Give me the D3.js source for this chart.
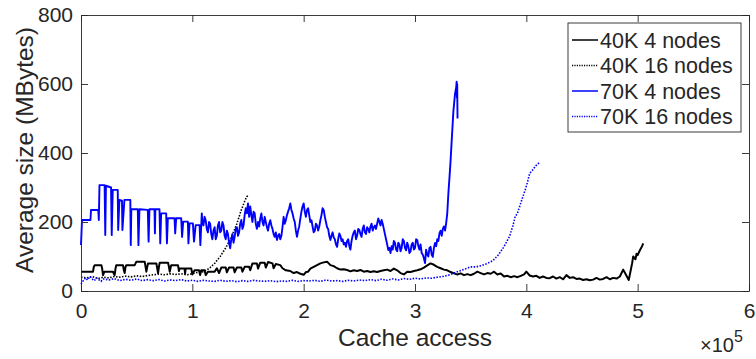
<!DOCTYPE html>
<html>
<head>
<meta charset="utf-8">
<script src="https://cdn.jsdelivr.net/npm/d3@7"></script>
<style>
  body { margin: 0; background: #fff; }
  text { font-family: "Liberation Sans", Arial, Helvetica, sans-serif; fill: #262626; }
</style>
</head>
<body>
<div id="chart"></div>
<script>

// svg variables
var width = 756,
    height = 359;

var margin = {top: 15, right: 7, bottom: 68, left: 81},
    innerW = width - margin.left - margin.right,
    innerH = height - margin.top - margin.bottom;

// data variables  (x in units of 10^5 cache accesses, y in MBytes)

var xTicks = [0, 1, 2, 3, 4, 5, 6];
var yTicks = [0, 200, 400, 600, 800];
var seriesNames = ["40K 4 nodes", "40K 16 nodes", "70K 4 nodes", "70K 16 nodes"];

var black4 = [[0.000,56],[0.108,56],[0.115,70],[0.123,75],[0.183,75],[0.190,65],[0.198,46],[0.210,56],[0.287,56],[0.295,50],[0.302,46],[0.310,65],[0.317,75],[0.377,75],[0.385,60],[0.392,52],[0.400,70],[0.407,75],[0.482,75],[0.490,80],[0.497,85],[0.572,85],[0.580,70],[0.587,56],[0.595,70],[0.602,80],[0.677,80],[0.685,65],[0.692,52],[0.700,70],[0.707,82],[0.782,82],[0.790,70],[0.797,56],[0.805,68],[0.811,75],[0.871,75],[0.880,58],[0.886,65],[0.930,65],[0.935,50],[0.940,65],[0.991,65],[1.000,48],[1.020,60],[1.060,60],[1.070,46],[1.080,60],[1.110,60],[1.120,46],[1.140,56],[1.200,56],[1.220,66],[1.240,52],[1.260,68],[1.300,68],[1.310,54],[1.330,68],[1.370,68],[1.380,54],[1.400,68],[1.440,68],[1.450,56],[1.470,70],[1.510,70],[1.520,60],[1.540,80],[1.580,80],[1.590,65],[1.610,82],[1.650,82],[1.660,68],[1.680,84],[1.720,80],[1.730,66],[1.750,78],[1.790,75],[1.810,66],[1.840,60],[1.880,58],[1.910,52],[1.940,55],[1.970,50],[2.000,47],[2.020,55],[2.040,56],[2.060,65],[2.090,70],[2.120,75],[2.150,80],[2.180,83],[2.210,85],[2.240,75],[2.270,72],[2.300,66],[2.330,62],[2.360,63],[2.390,61],[2.420,57],[2.450,60],[2.480,58],[2.510,61],[2.540,56],[2.570,58],[2.600,55],[2.630,57],[2.660,55],[2.690,58],[2.720,60],[2.750,62],[2.780,58],[2.810,65],[2.840,60],[2.870,52],[2.900,48],[2.930,56],[2.960,55],[2.990,58],[3.020,60],[3.050,63],[3.080,68],[3.110,74],[3.140,80],[3.170,76],[3.200,70],[3.230,66],[3.260,62],[3.290,60],[3.320,55],[3.350,51],[3.380,48],[3.410,51],[3.440,46],[3.470,49],[3.500,46],[3.530,50],[3.560,56],[3.590,52],[3.620,48],[3.650,52],[3.680,50],[3.710,56],[3.740,48],[3.770,51],[3.800,42],[3.830,44],[3.860,40],[3.890,43],[3.920,40],[3.950,44],[3.980,48],[4.000,56],[4.030,45],[4.060,42],[4.090,44],[4.120,38],[4.150,42],[4.180,38],[4.210,37],[4.240,42],[4.270,36],[4.300,40],[4.330,34],[4.360,46],[4.390,38],[4.420,40],[4.450,35],[4.480,36],[4.510,32],[4.540,34],[4.570,31],[4.600,33],[4.630,38],[4.660,33],[4.690,35],[4.720,40],[4.750,34],[4.780,38],[4.810,36],[4.840,42],[4.870,62],[4.890,50],[4.920,32],[4.950,80],[4.960,100],[4.980,92],[4.990,108],[5.000,104],[5.020,118],[5.040,130],[5.050,138]];

var black16 = [[0.00,40],[0.05,38],[0.10,42],[0.15,36],[0.20,40],[0.25,38],[0.30,42],[0.35,40],[0.40,43],[0.45,41],[0.50,44],[0.55,42],[0.60,45],[0.65,47],[0.70,49],[0.75,47],[0.80,50],[0.85,48],[0.90,50],[0.95,47],[1.00,50],[1.05,54],[1.10,56],[1.15,65],[1.20,80],[1.25,100],[1.30,125],[1.35,155],[1.40,195],[1.44,235],[1.47,260],[1.49,274],[1.50,276]];

var blue4 = [[0.000,133],[0.009,206],[0.085,206],[0.090,235],[0.155,235],[0.160,206],[0.166,307],[0.212,307],[0.218,162],[0.224,305],[0.270,300],[0.276,162],[0.285,293],[0.330,293],[0.334,177],[0.345,264],[0.368,262],[0.372,177],[0.390,264],[0.443,264],[0.447,133],[0.452,237],[0.510,237],[0.516,133],[0.525,237],[0.600,235],[0.607,143],[0.615,237],[0.660,237],[0.664,167],[0.668,237],[0.705,237],[0.712,138],[0.720,225],[0.765,225],[0.772,138],[0.780,211],[0.840,211],[0.846,167],[0.855,211],[0.900,211],[0.908,157],[0.918,201],[0.960,201],[0.965,138],[0.975,196],[1.005,196],[1.015,143],[1.030,191],[1.065,191],[1.072,133],[1.085,225],
  [1.09,200],[1.10,190],[1.11,215],[1.12,205],[1.13,180],[1.14,170],[1.15,200],[1.16,195],[1.17,165],[1.18,150],[1.19,175],[1.20,185],[1.21,150],[1.22,160],[1.23,190],[1.24,200],[1.25,170],[1.26,175],[1.27,200],[1.28,190],[1.29,160],[1.30,150],[1.31,175],[1.32,165],[1.33,140],[1.34,124],[1.35,150],[1.36,165],[1.37,140],[1.38,157],[1.39,180],[1.40,185],[1.41,160],[1.42,170],[1.43,195],[1.44,206],[1.45,180],[1.46,190],[1.47,220],[1.48,240],[1.49,225],[1.50,254],[1.51,215],[1.52,245],[1.53,220],[1.54,200],[1.55,230],[1.56,225],[1.57,195],[1.58,180],[1.59,200],[1.60,187],[1.61,210],[1.62,225],[1.63,200],[1.64,190],[1.65,215],[1.66,200],[1.67,185],[1.68,175],[1.69,195],[1.70,205],[1.71,190],[1.72,180],[1.73,165],[1.74,157],[1.75,170],[1.76,148],[1.77,160],[1.78,165],[1.79,150],[1.80,160],[1.81,185],[1.82,215],[1.83,195],[1.84,205],[1.85,220],[1.86,230],[1.87,240],[1.88,254],[1.89,235],[1.90,225],[1.91,210],[1.92,200],[1.93,175],[1.94,157],[1.95,175],[1.96,187],[1.97,210],[1.98,230],[1.99,245],[2.00,254],[2.01,230],[2.02,215],[2.03,235],[2.04,240],[2.05,220],[2.06,200],[2.07,205],[2.08,187],[2.09,170],[2.10,175],[2.11,195],[2.12,190],[2.13,175],[2.14,187],[2.15,205],[2.16,220],[2.17,240],[2.18,235],[2.19,215],[2.20,200],[2.21,185],[2.22,180],[2.23,160],[2.24,148],[2.25,160],[2.26,170],[2.27,155],[2.28,150],[2.29,135],[2.30,128],[2.31,150],[2.32,167],[2.33,160],[2.34,145],[2.35,150],[2.36,135],[2.37,140],[2.38,128],[2.39,145],[2.40,150],[2.41,130],[2.42,120],[2.43,145],[2.44,160],[2.45,170],[2.46,175],[2.47,150],[2.48,160],[2.49,180],[2.50,177],[2.51,165],[2.52,157],[2.53,180],[2.54,190],[2.55,170],[2.56,165],[2.57,185],[2.58,180],[2.59,170],[2.60,187],[2.61,195],[2.62,175],[2.63,185],[2.64,190],[2.65,180],[2.66,195],[2.67,210],[2.68,201],[2.69,190],[2.70,206],[2.71,195],[2.72,180],[2.73,165],[2.74,150],[2.75,135],[2.76,119],[2.77,125],[2.78,110],[2.79,130],[2.80,120],[2.81,145],[2.82,140],[2.83,120],[2.84,115],[2.85,140],[2.86,135],[2.87,115],[2.88,125],[2.89,150],[2.90,145],[2.91,125],[2.92,118],[2.93,140],[2.94,130],[2.95,110],[2.96,115],[2.97,135],[2.98,140],[2.99,120],[3.00,125],[3.01,150],[3.02,148],[3.03,130],[3.04,120],[3.05,135],[3.06,110],[3.07,105],[3.08,95],[3.09,81],[3.10,120],[3.11,105],[3.12,100],[3.13,125],[3.14,128],[3.15,105],[3.16,99],[3.17,125],[3.18,139],[3.19,130],[3.20,150],[3.21,145],[3.22,168],[3.23,175],[3.24,160],[3.25,180],[3.26,187],[3.27,175],[3.28,197],[3.29,226],[3.30,284],[3.31,330],[3.32,380],[3.33,438],[3.345,522],[3.36,573],[3.37,590],[3.374,607],[3.377,560],[3.379,600],[3.382,500]];

var blue16 = [[0.00,20],[0.02,30],[0.04,38],[0.06,32],[0.08,42],[0.10,35],[0.12,30],[0.14,38],[0.16,33],[0.18,28],[0.20,35],[0.25,32],[0.30,36],[0.35,30],[0.40,34],[0.45,31],[0.50,35],[0.55,30],[0.60,33],[0.65,30],[0.70,33],[0.75,29],[0.80,32],[0.85,30],[0.90,33],[0.95,29],[1.00,31],[1.05,28],[1.10,31],[1.15,29],[1.20,28],[1.25,31],[1.30,28],[1.35,30],[1.40,27],[1.45,30],[1.50,28],[1.55,31],[1.60,29],[1.65,28],[1.70,30],[1.75,27],[1.80,29],[1.85,28],[1.90,31],[1.95,28],[2.00,30],[2.05,29],[2.10,31],[2.15,28],[2.20,32],[2.25,29],[2.30,30],[2.35,28],[2.40,31],[2.45,29],[2.50,32],[2.55,30],[2.60,33],[2.65,30],[2.70,34],[2.75,31],[2.80,35],[2.85,32],[2.90,36],[2.95,34],[3.00,37],[3.05,35],[3.10,38],[3.15,37],[3.20,40],[3.25,42],[3.30,46],[3.35,52],[3.40,58],[3.45,64],[3.50,70],[3.55,70],[3.60,74],[3.65,80],[3.70,88],[3.75,105],[3.80,129],[3.85,159],[3.88,190],[3.90,216],[3.92,225],[3.94,245],[3.96,265],[3.99,293],[4.01,315],[4.03,341],[4.06,352],[4.08,361],[4.10,368],[4.12,372]];

var axisColor = "#262626";

/// build chart

var svg = d3.select("#chart")
    .append("svg")
    .attr("width", width)
    .attr("height", height);

var x = d3.scaleLinear().domain([0, 6e5]).range([0, innerW]);
var y = d3.scaleLinear().domain([0, 800]).range([innerH, 0]);

var g = svg.append("g")
    .attr("transform", "translate(" + margin.left + "," + margin.top + ")");

/////////////////////////////
// series lines
/////////////////////////////

var line = d3.line()
    .x(function (d) { return x(d[0] * 1e5); })
    .y(function (d) { return y(d[1]); });

var series = [
    {name: seriesNames[0], data: black4,  color: "#000000", dash: null,  w: 2},
    {name: seriesNames[1], data: black16, color: "#000000", dash: "1.5,1.5", w: 1.6},
    {name: seriesNames[2], data: blue4,   color: "#0000ff", dash: null,  w: 1.9},
    {name: seriesNames[3], data: blue16,  color: "#0000ff", dash: "1.5,1.5", w: 1.6}
];

g.selectAll("path.series")
    .data(series)
    .enter()
    .append("path")
    .attr("class", "series")
    .attr("d", function (d) { return line(d.data); })
    .attr("fill", "none")
    .attr("stroke", function (d) { return d.color; })
    .attr("stroke-width", function (d) { return d.w; })
    .attr("stroke-dasharray", function (d) { return d.dash; })
    .attr("stroke-linejoin", "round");

/////////////////////////////
// axes (matlab style box, ticks inside)
/////////////////////////////

var xAxis = d3.axisBottom(x).tickValues(xTicks.map(function (t) { return t * 1e5; }))
    .tickFormat(function (d) { return d / 1e5; })
    .tickSizeInner(-7).tickSizeOuter(0).tickPadding(12);
var xAxisTop = d3.axisTop(x).tickValues(xTicks.map(function (t) { return t * 1e5; }))
    .tickFormat("").tickSizeInner(-7).tickSizeOuter(0);
var yAxis = d3.axisLeft(y).tickValues(yTicks)
    .tickSizeInner(-7).tickSizeOuter(0).tickPadding(8);
var yAxisRight = d3.axisRight(y).tickValues(yTicks)
    .tickFormat("").tickSizeInner(-7).tickSizeOuter(0);

g.append("g").attr("transform", "translate(0," + innerH + ")").call(xAxis);
g.append("g").call(xAxisTop);
g.append("g").call(yAxis);
g.append("g").attr("transform", "translate(" + innerW + ",0)").call(yAxisRight);

g.selectAll(".domain, .tick line").attr("stroke", axisColor).attr("stroke-width", 0.9);
g.selectAll(".tick text")
    .style("font-size", "21px")
    .style("font-family", "Liberation Sans, Arial, sans-serif")
    .attr("fill", axisColor);

// axis titles
svg.append("text")
    .attr("x", margin.left + innerW / 2)
    .attr("y", 346)
    .attr("text-anchor", "middle")
    .style("font-size", "24.5px")
    .text("Cache access");

svg.append("text")
    .attr("transform", "translate(33,150) rotate(-90)")
    .attr("text-anchor", "middle")
    .style("font-size", "24.5px")
    .text("Average size (MBytes)");

// exponent
var expo = svg.append("text")
    .attr("x", 700)
    .attr("y", 352)
    .style("font-size", "20px");
expo.append("tspan").text("\u00d710");
expo.append("tspan").attr("dy", -10).style("font-size", "16px").text("5");

/////////////////////////////
// legend
/////////////////////////////

var legend = svg.append("g").attr("transform", "translate(568,23)");

legend.append("rect")
    .attr("width", 173)
    .attr("height", 109)
    .attr("fill", "#fff")
    .attr("stroke", axisColor)
    .attr("stroke-width", 0.9);

var rows = legend.selectAll("g.row")
    .data(series)
    .enter()
    .append("g")
    .attr("class", "row")
    .attr("transform", function (d, i) { return "translate(0," + (17 + i * 25.5) + ")"; });

rows.append("line")
    .attr("x1", 4).attr("x2", 30)
    .attr("stroke", function (d) { return d.color; })
    .attr("stroke-width", function (d) { return d.dash ? 1.3 : 1.5; })
    .attr("stroke-dasharray", function (d) { return d.dash ? "1.2,1.2" : null; });

rows.append("text")
    .attr("x", 32)
    .attr("y", 7.5)
    .style("font-size", "21.5px")
    .attr("fill", "#000")
    .text(function (d) { return d.name; });

</script>
</body>
</html>
